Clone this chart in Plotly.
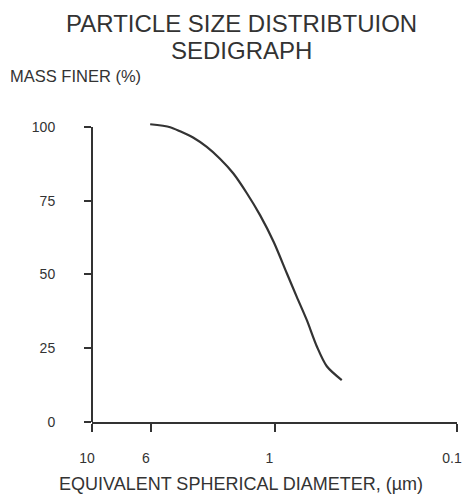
import plotly.graph_objects as go

# Data
diameter_um = [4.80, 3.73, 3.29, 2.78, 2.35, 1.99, 1.68, 1.42, 1.20, 1.01,
               0.856, 0.755, 0.665, 0.586, 0.517, 0.428]
mass_finer = [100.9, 99.9, 98.5, 96.3, 93.2, 89.2, 84.2, 77.6, 70.1, 61.0,
              50.4, 42.4, 34.5, 25.6, 18.9, 14.2]

x_tick_vals = [10, 4.75, 1, 0.1]
x_tick_text = ["10", "6", "1", "0.1"]
y_tick_vals = [0, 25, 50, 75, 100]

title_lines = ["PARTICLE SIZE DISTRIBTUION", "SEDIGRAPH"]
y_title = "MASS FINER (%)"
x_title = "EQUIVALENT SPHERICAL DIAMETER, (µm)"

INK = "#333333"
FONT = "Liberation Sans, Arial, sans-serif"

W, H = 465, 497
ML, MR, MT, MB = 92, 8, 121.1, 75.3
PW, PH = W - ML - MR, H - MT - MB

fig = go.Figure()
fig.add_trace(go.Scatter(
    x=diameter_um, y=mass_finer, mode="lines",
    line=dict(color=INK, width=2.2, shape="spline", smoothing=0.8),
    hoverinfo="skip", showlegend=False,
))

# positions given in window pixels
annotations = [
    dict(text=title_lines[0], wx=241.5, wy=23.5, size=24, xanchor="center"),
    dict(text=title_lines[1], wx=241.5, wy=50.5, size=24, xanchor="center"),
    dict(text=y_title, wx=8, wy=76, size=16.5, xanchor="left"),
    dict(text=x_title, wx=240.5, wy=484, size=18, xanchor="center"),
]
ann_objs = []
for a in annotations:
    ann_objs.append(dict(
        text=a["text"], xref="paper", yref="paper",
        x=(a["wx"] - ML) / PW, y=(H - MB - a["wy"]) / PH,
        xanchor=a["xanchor"], yanchor="middle", showarrow=False,
        font=dict(size=a["size"], color=INK, family=FONT),
    ))

fig.update_layout(
    width=W, height=H,
    margin=dict(l=ML, r=MR, t=MT, b=MB, autoexpand=False),
    paper_bgcolor="white", plot_bgcolor="white",
    font=dict(family=FONT, color=INK, size=14),
    xaxis=dict(type="log", range=[1, -1], tickvals=x_tick_vals, ticktext=x_tick_text,
               automargin=False, ticklabeloverflow="allow",
               showgrid=False, zeroline=False, showline=True, linecolor=INK, linewidth=2,
               ticks="outside", ticklen=8, tickwidth=2, tickcolor=INK,
               ticklabelstandoff=14, ticklabelshift=5,
               tickfont=dict(size=14, color=INK)),
    yaxis=dict(range=[0, 102], tickvals=y_tick_vals, automargin=False,
               showgrid=False, zeroline=False, showline=False,
               ticks="outside", ticklen=7, tickwidth=2, tickcolor=INK,
               ticklabelstandoff=26, tickfont=dict(size=14, color=INK)),
    annotations=ann_objs,
    shapes=[dict(type="line", xref="paper", yref="y", x0=0, x1=0, y0=0, y1=100,
                 line=dict(color=INK, width=2))],
)

fig.write_html("out.html",
               config={"displayModeBar": False, "staticPlot": True},
               post_script="document.body.style.margin='0';document.body.style.overflow='hidden';")
